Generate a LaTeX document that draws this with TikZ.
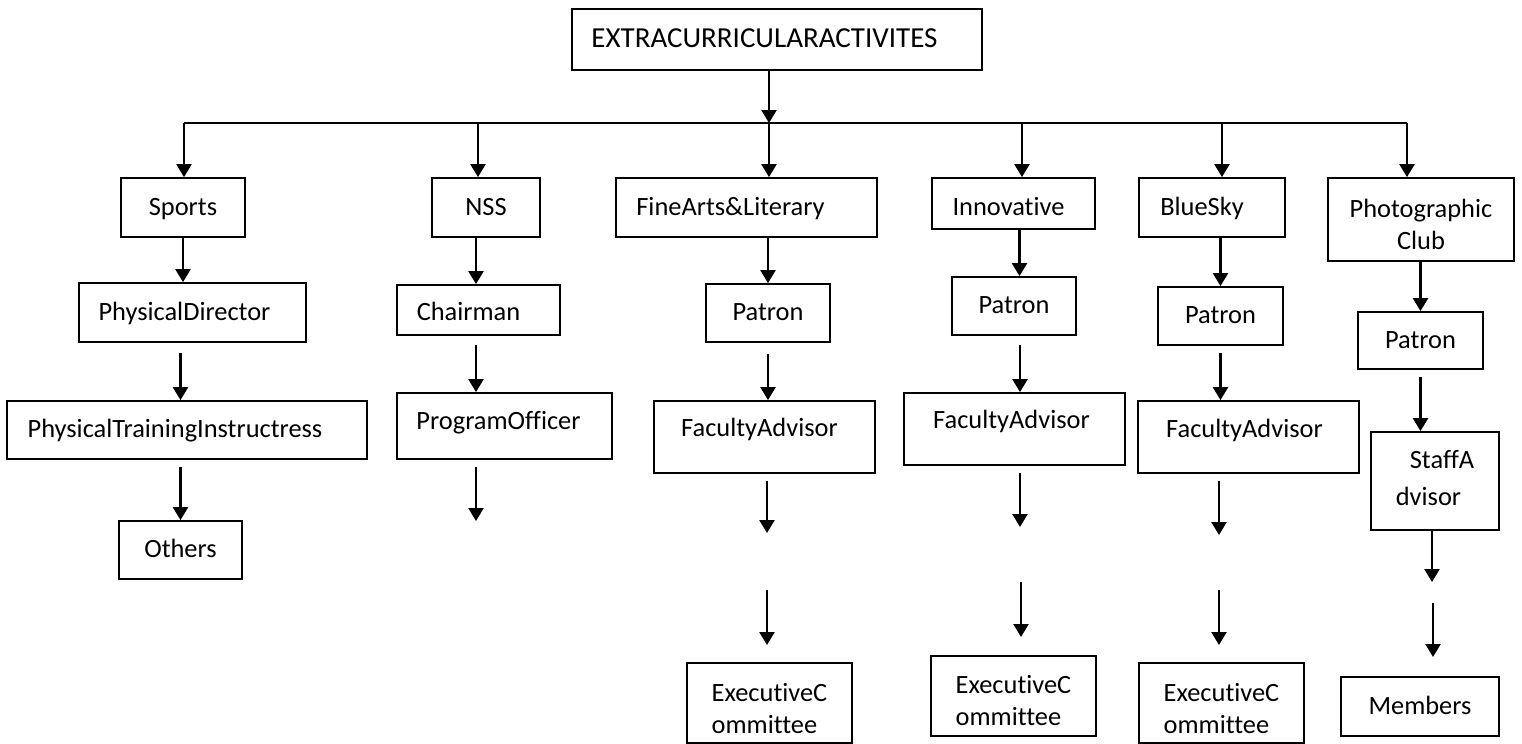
\documentclass[tikz,border=0pt]{standalone}
\usepackage{fontspec}
\setmainfont{Carlito}[Ligatures={NoCommon}]
\usetikzlibrary{arrows.meta}
\begin{document}
\begin{tikzpicture}[x=0.5pt,y=-0.5pt,
  box/.style={draw, line width=0.9pt, inner sep=0pt, font=\fontsize{13.2}{16}\selectfont, text height=10.5pt, text depth=3pt},
  ebox/.style={draw, line width=0.9pt, inner sep=0pt},
  txt/.style={inner sep=0pt, font=\fontsize{13.2}{16}\selectfont},
  sz/.style 2 args={minimum width=#1*0.5pt, minimum height=#2*0.5pt},
  arr/.style={line width=1.2pt, -{Triangle[length=6.5pt,width=7.5pt]}},
  ln/.style={line width=1pt}]
\useasboundingbox (0,0) rectangle (1522,744);

% boxes
\node[box, sz={410}{61}, font=\fontsize{14.5}{17}\selectfont] (top) at (777,39.5) {EXTRACURRICULARACTIVITES\hspace*{12.5pt}};
\node[box, sz={124}{59}] (sports) at (183,207.5) {Sports};
\node[box, sz={108}{59}] (nss) at (486,207.5) {NSS};
\node[box, sz={261}{59}] (fine) at (746.5,207.5) {FineArts\&Literary\hspace*{16pt}};
\node[box, sz={163}{51}, text height=14.5pt] (innov) at (1013.5,203.5) {Innovative\hspace*{5pt}};
\node[box, sz={146}{59}] (bluesky) at (1212,207.5) {BlueSky\hspace*{10pt}};
\node[ebox, sz={186}{83}] (photo) at (1421,219.5) {};
\node[txt, align=center] at ([yshift=-2.25pt]photo.center) {Photographic\\Club};

\node[box, sz={227}{59}] (physdir) at (192.5,312.5) {PhysicalDirector\hspace*{8pt}};
\node[box, sz={163}{50}, text height=13.5pt] (chair) at (478.5,310) {Chairman\hspace*{10pt}};
\node[box, sz={124}{58}] (patFA) at (768,313) {Patron};
\node[box, sz={124}{58}] (patInn) at (1014,306) {Patron};
\node[box, sz={125}{58}] (patBS) at (1220.5,316) {Patron};
\node[box, sz={125}{57}] (patPh) at (1420.5,340.5) {Patron};

\node[box, sz={360}{58}] (pti) at (187,430) {PhysicalTrainingInstructress\hspace*{12pt}};
\node[box, sz={123}{58}] (others) at (180.5,550) {Others};
\node[box, sz={215}{66}, text depth=7pt] (progoff) at (504.5,426) {ProgramOfficer\hspace*{6pt}};
\node[box, sz={221}{72}, text depth=11pt] (facFA) at (764.5,437) {FacultyAdvisor\hspace*{5pt}};
\node[box, sz={221}{72}, text depth=11pt] (facInn) at (1014.5,429) {FacultyAdvisor\hspace*{3pt}};
\node[box, sz={221}{72}, text depth=10pt] (facBS) at (1248.5,437) {FacultyAdvisor\hspace*{4pt}};
\node[ebox, sz={128}{98}] (staff) at (1435,481) {};
\node[txt, align=left, font=\fontsize{13.2}{18.5}\selectfont] at ([yshift=1.25pt]staff.center) {\hspace*{7pt}StaffA\\dvisor};

\node[ebox, sz={165}{80}] (execFA) at (769.5,703) {};
\node[txt, align=left] at ([yshift=-3pt]execFA.center) {ExecutiveC\\ommittee};
\node[ebox, sz={165}{80}] (execInn) at (1013.5,696) {};
\node[txt, align=left] at ([yshift=-2.5pt]execInn.center) {ExecutiveC\\ommittee};
\node[ebox, sz={165}{80}] (execBS) at (1221.5,703) {};
\node[txt, align=left] at ([yshift=-3pt]execBS.center) {ExecutiveC\\ommittee};
\node[box, sz={158}{59}] (members) at (1420,706.5) {Members};

% bus
\coordinate (bus) at (769,123);
\coordinate (busL) at (184,123);
\coordinate (busR) at (1407,123);
\coordinate (bNSS) at (478,123);
\coordinate (bInn) at (1022,123);
\coordinate (bBS) at (1222,123);
\draw[arr] (top.south -| bus) -- (bus);
\draw[ln] (busL) -- (busR);
\draw[arr] (busL) -- (busL |- sports.north);
\draw[arr] (bNSS) -- (bNSS |- nss.north);
\draw[arr] (bus) -- (bus |- fine.north);
\draw[arr] (bInn) -- (bInn |- innov.north);
\draw[arr] (bBS) -- (bBS |- bluesky.north);
\draw[arr] (busR) -- (busR |- photo.north);

% level 2
\draw[arr] (sports.south) -- (sports.south |- physdir.north);
\draw[arr] ([xshift=-5pt]nss.south) -- ([xshift=-5pt]nss.south |- chair.north);
\draw[arr] (patFA.north |- fine.south) -- (patFA.north);
\draw[arr] ([xshift=3pt]innov.south) -- ([xshift=3pt]innov.south |- patInn.north);
\draw[arr] (patBS.north |- bluesky.south) -- (patBS.north);
\draw[arr] (patPh.north |- photo.south) -- (patPh.north);

% level 3
\draw[arr] ([yshift=-5pt]physdir.south -| others.north) -- (others.north |- pti.north);
\draw[arr] ([yshift=-3.5pt]pti.south -| others.north) -- (others.north);
\draw[arr] ([xshift=-1.25pt,yshift=-4.5pt]chair.south) -- ([xshift=-1.25pt]chair.south |- progoff.north);
\coordinate (poEnd) at (476,521);
\draw[arr] ([yshift=-3.5pt]progoff.south -| poEnd) -- (poEnd);

\draw[arr] ([yshift=-5.5pt]patFA.south) -- (patFA.south |- facFA.north);
\coordinate (fa1) at (767,533);
\draw[arr] ([yshift=-3.5pt]facFA.south -| fa1) -- (fa1);
\coordinate (fa2s) at (767,590);
\coordinate (fa2e) at (767,645);
\draw[arr] (fa2s) -- (fa2e);

\draw[arr] ([xshift=3pt,yshift=-4.5pt]patInn.south) -- ([xshift=3pt]patInn.south |- facInn.north);
\coordinate (in1) at (1020,527);
\draw[arr] ([yshift=-3.5pt]facInn.south -| in1) -- (in1);
\coordinate (in2s) at (1021,582);
\coordinate (in2e) at (1021,637);
\draw[arr] (in2s) -- (in2e);

\draw[arr] ([yshift=-3.5pt]patBS.south) -- (patBS.south |- facBS.north);
\coordinate (bs1) at (1219,535);
\draw[arr] ([yshift=-3.5pt]facBS.south -| bs1) -- (bs1);
\coordinate (bs2s) at (1219,590);
\coordinate (bs2e) at (1219,645);
\draw[arr] (bs2s) -- (bs2e);

\draw[arr] ([yshift=-3.5pt]patPh.south) -- (patPh.south |- staff.north);
\coordinate (ph1) at (1432,582);
\draw[arr] (staff.south -| ph1) -- (ph1);
\coordinate (ph2s) at (1433,603);
\coordinate (ph2e) at (1433,657);
\draw[arr] (ph2s) -- (ph2e);
\end{tikzpicture}
\end{document}
